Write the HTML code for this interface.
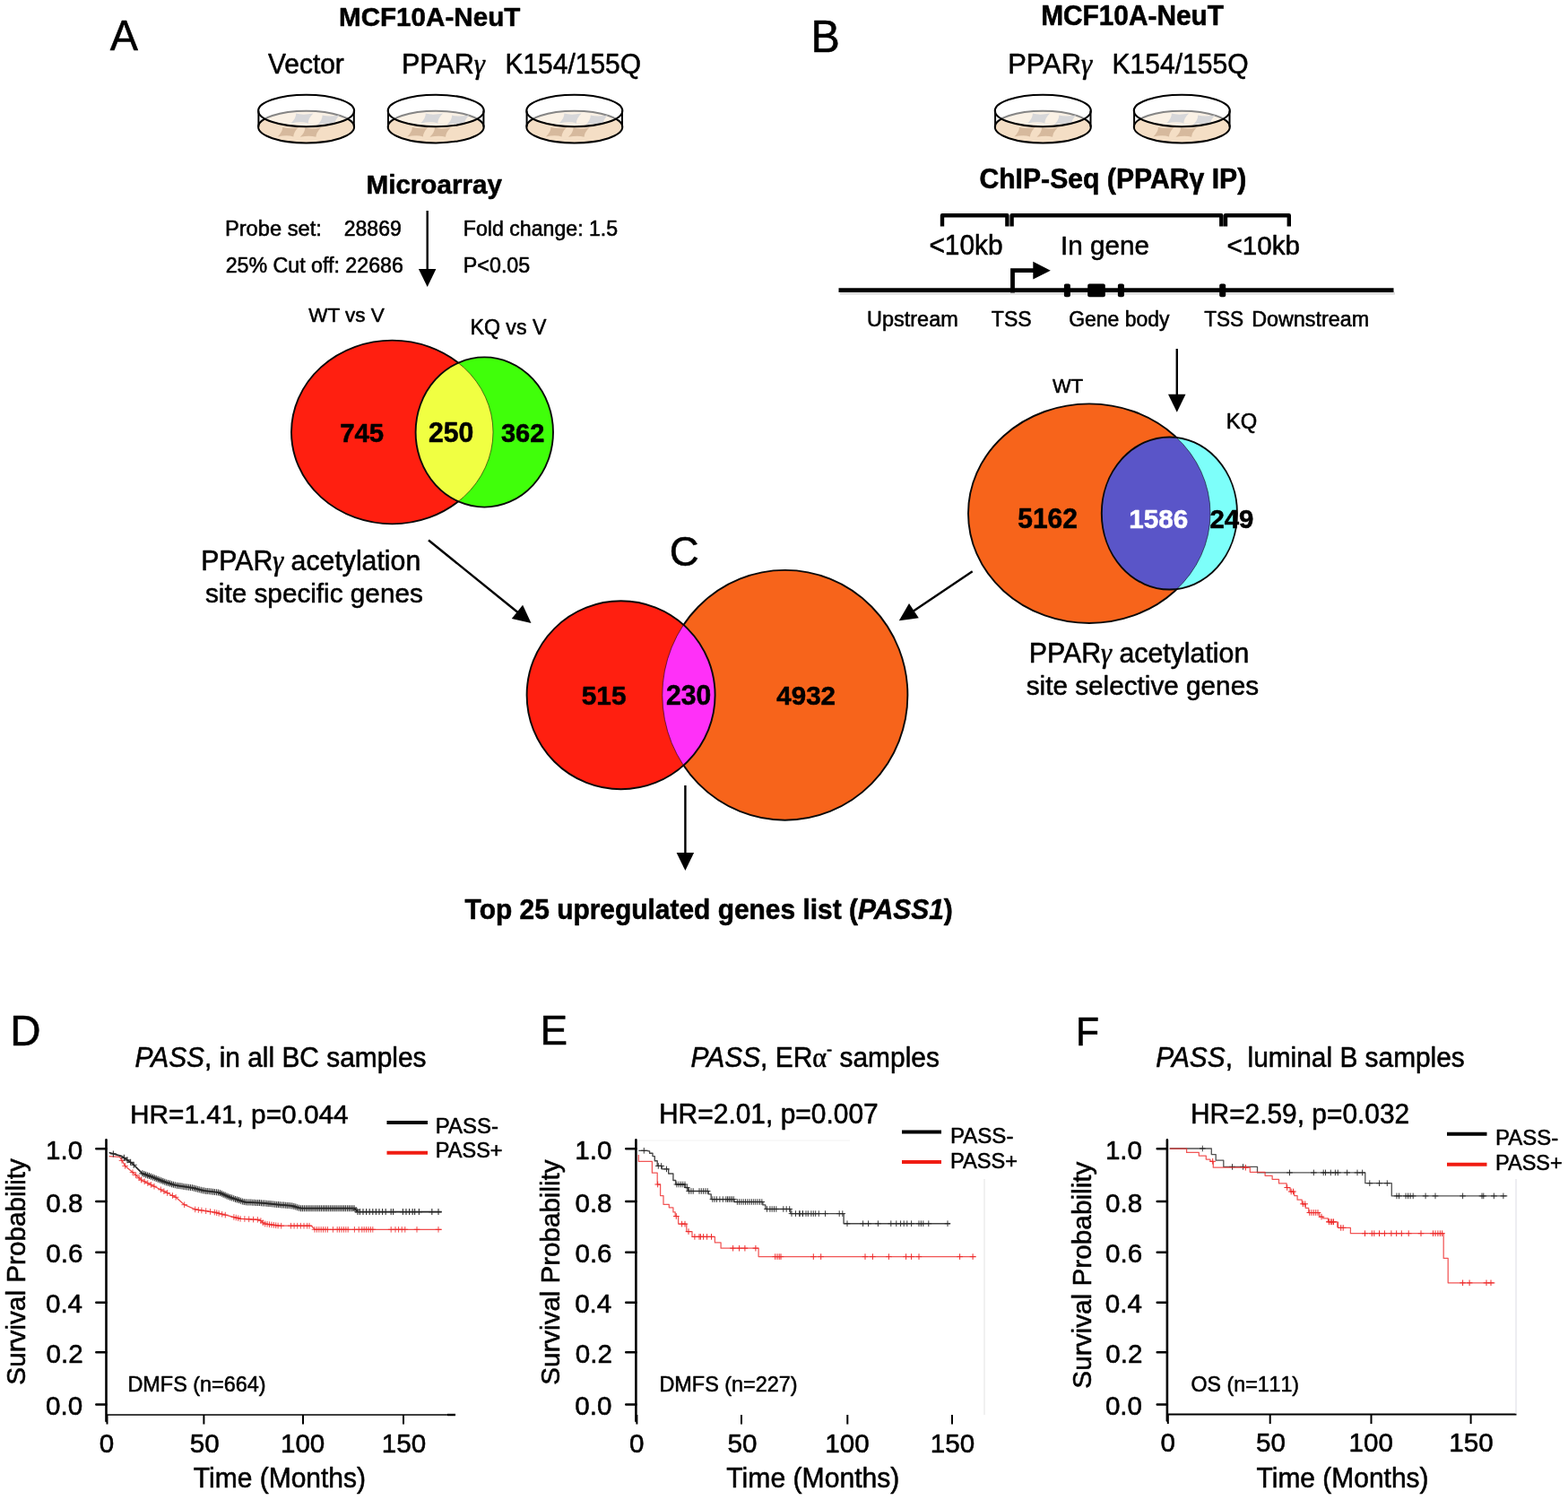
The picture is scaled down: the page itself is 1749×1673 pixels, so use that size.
<!DOCTYPE html>
<html lang="en"><head><meta charset="utf-8"><title>PPARγ acetylation site selective genes</title>
<style>
html,body{margin:0;padding:0;background:#fff;}
body{width:1749px;height:1673px;overflow:hidden;}
svg{display:block;}
svg text{font-family:"Liberation Sans",Arial,Helvetica,sans-serif;white-space:pre;stroke:#000;stroke-width:0.55px;stroke-linejoin:round;}
svg text.w{stroke:#fff;}
</style></head><body>
<svg width="1749" height="1673" viewBox="0 0 1749 1673">
<rect width="1749" height="1673" fill="#fff"/>
<!-- Panel A -->
<text transform="translate(122.72 55.50) scale(1.0000 1.02)" font-size="46.85" stroke-width="0.84">A</text>
<text transform="translate(377.99 28.80) scale(1.0000 1.02)" font-size="29.62" stroke-width="0.24" font-weight="bold">MCF10A-NeuT</text>
<text transform="translate(299.04 81.50) scale(1.0000 1.02)" font-size="29.90" stroke-width="0.78">Vector</text>
<text transform="translate(447.96 81.70) scale(1.0000 1.02)" font-size="30.50" stroke-width="0.79"><tspan>PPAR</tspan><tspan font-family="Liberation Serif, serif" font-style="italic">γ</tspan></text>
<text transform="translate(563.49 81.50) scale(1.0000 1.02)" font-size="29.96" stroke-width="0.78">K154/155Q</text>
<g>
<ellipse cx="341.6" cy="141.6" rx="53.5" ry="17.8" fill="#f4dec5" stroke="#000" stroke-width="2"/>
<path d="M315.3,142.0 Q322.1,144.1 332.9,142.0 Q327.5,147.2 327.3,152.4 Q320.5,150.3 309.7,152.4 Q315.1,147.2 315.3,142.0Z" fill="#d6b99d"/>
<path d="M340.4,142.4 Q347.2,144.5 358.0,142.4 Q352.6,147.6 352.4,152.8 Q345.6,150.7 334.8,152.8 Q340.2,147.6 340.4,142.4Z" fill="#d6b99d"/>
<clipPath id="c341"><ellipse cx="341.6" cy="123.5" rx="53.5" ry="17.8"/></clipPath>
<g clip-path="url(#c341)">
<rect x="288.1" y="105.7" width="107.0" height="35.6" fill="#fff"/>
<ellipse cx="341.6" cy="141.6" rx="53.5" ry="17.8" fill="#faf1e5" stroke="#858585" stroke-width="2"/>
<path d="M330.2,126.6 Q337.8,128.8 349.4,126.6 Q343.7,132.0 343.8,137.4 Q336.2,135.2 324.6,137.4 Q330.3,132.0 330.2,126.6Z" fill="#d7d7d9"/>
<path d="M359.6,128.4 Q367.2,130.6 378.8,128.4 Q373.1,133.8 373.2,139.2 Q365.6,137.0 354.0,139.2 Q359.7,133.8 359.6,128.4Z" fill="#d7d7d9"/>
</g>
<path d="M288.40000000000003,123.5 V141.6 M394.8,141.6 V123.5" fill="none" stroke="#000" stroke-width="2"/>
<ellipse cx="341.6" cy="123.5" rx="53.5" ry="17.8" fill="none" stroke="#000" stroke-width="2.1"/>
</g>
<g>
<ellipse cx="486.2" cy="141.6" rx="53.5" ry="17.8" fill="#f4dec5" stroke="#000" stroke-width="2"/>
<path d="M459.9,142.0 Q466.7,144.1 477.5,142.0 Q472.1,147.2 471.9,152.4 Q465.1,150.3 454.3,152.4 Q459.7,147.2 459.9,142.0Z" fill="#d6b99d"/>
<path d="M485.0,142.4 Q491.8,144.5 502.6,142.4 Q497.2,147.6 497.0,152.8 Q490.2,150.7 479.4,152.8 Q484.8,147.6 485.0,142.4Z" fill="#d6b99d"/>
<clipPath id="c486"><ellipse cx="486.2" cy="123.5" rx="53.5" ry="17.8"/></clipPath>
<g clip-path="url(#c486)">
<rect x="432.7" y="105.7" width="107.0" height="35.6" fill="#fff"/>
<ellipse cx="486.2" cy="141.6" rx="53.5" ry="17.8" fill="#faf1e5" stroke="#858585" stroke-width="2"/>
<path d="M474.8,126.6 Q482.4,128.8 494.0,126.6 Q488.3,132.0 488.4,137.4 Q480.8,135.2 469.2,137.4 Q474.9,132.0 474.8,126.6Z" fill="#d7d7d9"/>
<path d="M504.2,128.4 Q511.8,130.6 523.4,128.4 Q517.7,133.8 517.8,139.2 Q510.2,137.0 498.6,139.2 Q504.3,133.8 504.2,128.4Z" fill="#d7d7d9"/>
</g>
<path d="M433.0,123.5 V141.6 M539.4000000000001,141.6 V123.5" fill="none" stroke="#000" stroke-width="2"/>
<ellipse cx="486.2" cy="123.5" rx="53.5" ry="17.8" fill="none" stroke="#000" stroke-width="2.1"/>
</g>
<g>
<ellipse cx="640.8" cy="141.6" rx="53.5" ry="17.8" fill="#f4dec5" stroke="#000" stroke-width="2"/>
<path d="M614.5,142.0 Q621.3,144.1 632.1,142.0 Q626.7,147.2 626.5,152.4 Q619.7,150.3 608.9,152.4 Q614.3,147.2 614.5,142.0Z" fill="#d6b99d"/>
<path d="M639.6,142.4 Q646.4,144.5 657.2,142.4 Q651.8,147.6 651.6,152.8 Q644.8,150.7 634.0,152.8 Q639.4,147.6 639.6,142.4Z" fill="#d6b99d"/>
<clipPath id="c640"><ellipse cx="640.8" cy="123.5" rx="53.5" ry="17.8"/></clipPath>
<g clip-path="url(#c640)">
<rect x="587.3" y="105.7" width="107.0" height="35.6" fill="#fff"/>
<ellipse cx="640.8" cy="141.6" rx="53.5" ry="17.8" fill="#faf1e5" stroke="#858585" stroke-width="2"/>
<path d="M629.4,126.6 Q637.0,128.8 648.6,126.6 Q642.9,132.0 643.0,137.4 Q635.4,135.2 623.8,137.4 Q629.5,132.0 629.4,126.6Z" fill="#d7d7d9"/>
<path d="M658.8,128.4 Q666.4,130.6 678.0,128.4 Q672.3,133.8 672.4,139.2 Q664.8,137.0 653.2,139.2 Q658.9,133.8 658.8,128.4Z" fill="#d7d7d9"/>
</g>
<path d="M587.5999999999999,123.5 V141.6 M694.0,141.6 V123.5" fill="none" stroke="#000" stroke-width="2"/>
<ellipse cx="640.8" cy="123.5" rx="53.5" ry="17.8" fill="none" stroke="#000" stroke-width="2.1"/>
</g>
<text transform="translate(408.49 215.50) scale(1.0000 1.02)" font-size="29.63" stroke-width="0.24" font-weight="bold">Microarray</text>
<text transform="translate(250.91 262.50) scale(1.0000 1.02)" font-size="23.69" stroke-width="0.62">Probe set:</text>
<text transform="translate(383.75 262.50) scale(1.0000 1.02)" font-size="23.05" stroke-width="0.60">28869</text>
<text transform="translate(251.64 304.00) scale(1.0000 1.02)" font-size="23.22" stroke-width="0.60">25% Cut off: 22686</text>
<text transform="translate(516.85 262.50) scale(1.0000 1.02)" font-size="23.14" stroke-width="0.60">Fold change: 1.5</text>
<text transform="translate(516.84 304.00) scale(1.0000 1.02)" font-size="23.28" stroke-width="0.61">P&lt;0.05</text>
<line x1="476.7" y1="235.0" x2="476.7" y2="302.0" stroke="#000" stroke-width="2.4"/>
<polygon points="476.7,320.0 466.9,300.0 486.4,300.0" fill="#000"/>
<text transform="translate(344.18 358.60) scale(1.0000 1.02)" font-size="22.54" stroke-width="0.59">WT vs V</text>
<text transform="translate(524.45 373.00) scale(1.0000 1.02)" font-size="23.18" stroke-width="0.60">KQ vs V</text>
<clipPath id="va1"><ellipse cx="437.5" cy="482" rx="112.5" ry="102.4"/></clipPath>
<clipPath id="va2"><ellipse cx="540.3" cy="482" rx="76.7" ry="83.6"/></clipPath>
<ellipse cx="437.5" cy="482" rx="112.5" ry="102.4" fill="#ff1f10" stroke="#0a0a0a" stroke-width="1.9"/>
<ellipse cx="540.3" cy="482" rx="76.7" ry="83.6" fill="#40ff0a"/>
<ellipse cx="540.3" cy="482" rx="76.7" ry="83.6" fill="#f0ff42" clip-path="url(#va1)"/>
<ellipse cx="437.5" cy="482" rx="112.5" ry="102.4" fill="none" stroke="#000" stroke-opacity="0.62" stroke-width="0.9" clip-path="url(#va2)"/>
<ellipse cx="540.3" cy="482" rx="76.7" ry="83.6" fill="none" stroke="#0a0a0a" stroke-width="1.9"/>
<text transform="translate(379.14 492.80) scale(1.0000 1.02)" font-size="29.35" stroke-width="0.23" font-weight="bold">745</text>
<text transform="translate(478.06 492.80) scale(1.0000 1.02)" font-size="30.16" stroke-width="0.24" font-weight="bold">250</text>
<text transform="translate(558.99 492.80) scale(1.0000 1.02)" font-size="28.98" stroke-width="0.23" font-weight="bold">362</text>
<text transform="translate(224.17 636.00) scale(1.0000 1.02)" font-size="30.26" stroke-width="0.79"><tspan>PPAR</tspan><tspan font-family="Liberation Serif, serif" font-style="italic">γ</tspan><tspan> acetylation</tspan></text>
<text transform="translate(228.99 671.50) scale(1.0000 1.02)" font-size="29.73" stroke-width="0.77">site specific genes</text>
<line x1="478.0" y1="602.5" x2="578.5" y2="683.7" stroke="#000" stroke-width="2.4"/>
<polygon points="592.5,695.0 570.8,690.0 583.1,674.8" fill="#000"/>
<!-- Panel B -->
<text transform="translate(904.56 58.30) scale(1.0000 1.02)" font-size="48.46" stroke-width="0.87">B</text>
<text transform="translate(1161.18 27.80) scale(1.0000 1.02)" font-size="29.85" stroke-width="0.24" font-weight="bold">MCF10A-NeuT</text>
<text transform="translate(1124.23 81.70) scale(1.0000 1.02)" font-size="30.86" stroke-width="0.80"><tspan>PPAR</tspan><tspan font-family="Liberation Serif, serif" font-style="italic">γ</tspan></text>
<text transform="translate(1240.49 81.50) scale(1.0000 1.02)" font-size="30.06" stroke-width="0.78">K154/155Q</text>
<g>
<ellipse cx="1163.3" cy="141.6" rx="53.5" ry="17.8" fill="#f4dec5" stroke="#000" stroke-width="2"/>
<path d="M1137.0,142.0 Q1143.8,144.1 1154.6,142.0 Q1149.2,147.2 1149.0,152.4 Q1142.2,150.3 1131.4,152.4 Q1136.8,147.2 1137.0,142.0Z" fill="#d6b99d"/>
<path d="M1162.1,142.4 Q1168.9,144.5 1179.7,142.4 Q1174.3,147.6 1174.1,152.8 Q1167.3,150.7 1156.5,152.8 Q1161.9,147.6 1162.1,142.4Z" fill="#d6b99d"/>
<clipPath id="c1163"><ellipse cx="1163.3" cy="123.5" rx="53.5" ry="17.8"/></clipPath>
<g clip-path="url(#c1163)">
<rect x="1109.8" y="105.7" width="107.0" height="35.6" fill="#fff"/>
<ellipse cx="1163.3" cy="141.6" rx="53.5" ry="17.8" fill="#faf1e5" stroke="#858585" stroke-width="2"/>
<path d="M1151.9,126.6 Q1159.5,128.8 1171.1,126.6 Q1165.4,132.0 1165.5,137.4 Q1157.9,135.2 1146.3,137.4 Q1152.0,132.0 1151.9,126.6Z" fill="#d7d7d9"/>
<path d="M1181.3,128.4 Q1188.9,130.6 1200.5,128.4 Q1194.8,133.8 1194.9,139.2 Q1187.3,137.0 1175.7,139.2 Q1181.4,133.8 1181.3,128.4Z" fill="#d7d7d9"/>
</g>
<path d="M1110.1,123.5 V141.6 M1216.5,141.6 V123.5" fill="none" stroke="#000" stroke-width="2"/>
<ellipse cx="1163.3" cy="123.5" rx="53.5" ry="17.8" fill="none" stroke="#000" stroke-width="2.1"/>
</g>
<g>
<ellipse cx="1318.3" cy="141.6" rx="53.5" ry="17.8" fill="#f4dec5" stroke="#000" stroke-width="2"/>
<path d="M1292.0,142.0 Q1298.8,144.1 1309.6,142.0 Q1304.2,147.2 1304.0,152.4 Q1297.2,150.3 1286.4,152.4 Q1291.8,147.2 1292.0,142.0Z" fill="#d6b99d"/>
<path d="M1317.1,142.4 Q1323.9,144.5 1334.7,142.4 Q1329.3,147.6 1329.1,152.8 Q1322.3,150.7 1311.5,152.8 Q1316.9,147.6 1317.1,142.4Z" fill="#d6b99d"/>
<clipPath id="c1318"><ellipse cx="1318.3" cy="123.5" rx="53.5" ry="17.8"/></clipPath>
<g clip-path="url(#c1318)">
<rect x="1264.8" y="105.7" width="107.0" height="35.6" fill="#fff"/>
<ellipse cx="1318.3" cy="141.6" rx="53.5" ry="17.8" fill="#faf1e5" stroke="#858585" stroke-width="2"/>
<path d="M1306.9,126.6 Q1314.5,128.8 1326.1,126.6 Q1320.4,132.0 1320.5,137.4 Q1312.9,135.2 1301.3,137.4 Q1307.0,132.0 1306.9,126.6Z" fill="#d7d7d9"/>
<path d="M1336.3,128.4 Q1343.9,130.6 1355.5,128.4 Q1349.8,133.8 1349.9,139.2 Q1342.3,137.0 1330.7,139.2 Q1336.4,133.8 1336.3,128.4Z" fill="#d7d7d9"/>
</g>
<path d="M1265.1,123.5 V141.6 M1371.5,141.6 V123.5" fill="none" stroke="#000" stroke-width="2"/>
<ellipse cx="1318.3" cy="123.5" rx="53.5" ry="17.8" fill="none" stroke="#000" stroke-width="2.1"/>
</g>
<text transform="translate(1092.41 210.00) scale(1.0000 1.02)" font-size="30.17" stroke-width="0.24" font-weight="bold">ChIP-Seq (PPARγ IP)</text>
<path d="M1051,252.6 V240.3 H1123.4 V252.6 M1128.6,252.6 V240.3 H1362.3 V252.6 M1367,252.6 V240.3 H1437.8 V252.6" fill="none" stroke="#000" stroke-width="4.4" stroke-linejoin="round"/>
<text transform="translate(1036.39 284.30) scale(1.0000 1.02)" font-size="29.90" stroke-width="0.78">&lt;10kb</text>
<text transform="translate(1182.91 284.30) scale(1.0000 1.02)" font-size="29.70" stroke-width="0.77">In gene</text>
<text transform="translate(1368.51 284.30) scale(1.0000 1.02)" font-size="29.56" stroke-width="0.77">&lt;10kb</text>
<line x1="937" y1="327.2" x2="1556" y2="327.2" stroke="#000" stroke-opacity="0.13" stroke-width="3"/>
<line x1="935.5" y1="323.6" x2="1554.5" y2="323.6" stroke="#000" stroke-width="4.6"/>
<path d="M1129.5,326.5 V301.7 H1154" fill="none" stroke="#000" stroke-width="4.8"/>
<polygon points="1171.8,301.7 1152.3,291.8 1152.3,311.6" fill="#000"/>
<rect x="1186.9" y="316.6" width="7" height="14.6" rx="2" fill="#000"/>
<rect x="1213.2" y="316.6" width="19.6" height="14.6" rx="2" fill="#000"/>
<rect x="1246.9" y="316.6" width="7" height="14.6" rx="2" fill="#000"/>
<rect x="1360.2" y="316.6" width="7" height="14.6" rx="2" fill="#000"/>
<text transform="translate(967.05 364.00) scale(1.0066 1.02)" font-size="23.30" stroke-width="0.61">Upstream</text>
<text transform="translate(1105.84 364.00) scale(0.9908 1.02)" font-size="23.30" stroke-width="0.61">TSS</text>
<text transform="translate(1192.15 364.00) scale(0.9868 1.02)" font-size="23.30" stroke-width="0.61">Gene body</text>
<text transform="translate(1343.14 364.00) scale(0.9728 1.02)" font-size="23.30" stroke-width="0.61">TSS</text>
<text transform="translate(1396.14 364.00) scale(1.0019 1.02)" font-size="23.30" stroke-width="0.61">Downstream</text>
<line x1="1312.8" y1="389.0" x2="1312.8" y2="441.7" stroke="#000" stroke-width="2.4"/>
<polygon points="1312.8,459.7 1303.0,439.7 1322.5,439.7" fill="#000"/>
<text transform="translate(1173.98 438.30) scale(1.0000 1.02)" font-size="21.98" stroke-width="0.57">WT</text>
<text transform="translate(1367.81 477.80) scale(1.0000 1.02)" font-size="23.79" stroke-width="0.62">KQ</text>
<clipPath id="vb1"><ellipse cx="1215" cy="572.7" rx="135" ry="122.3"/></clipPath>
<clipPath id="vb2"><ellipse cx="1304.4" cy="572.5" rx="75.6" ry="85"/></clipPath>
<ellipse cx="1215" cy="572.7" rx="135" ry="122.3" fill="#f7641b" stroke="#0a0a0a" stroke-width="1.9"/>
<ellipse cx="1304.4" cy="572.5" rx="75.6" ry="85" fill="#7dfffa"/>
<ellipse cx="1304.4" cy="572.5" rx="75.6" ry="85" fill="#5a55c8" clip-path="url(#vb1)"/>
<ellipse cx="1215" cy="572.7" rx="135" ry="122.3" fill="none" stroke="#000" stroke-opacity="0.62" stroke-width="0.9" clip-path="url(#vb2)"/>
<ellipse cx="1304.4" cy="572.5" rx="75.6" ry="85" fill="none" stroke="#0a0a0a" stroke-width="1.9"/>
<text transform="translate(1135.22 588.80) scale(1.0000 1.02)" font-size="29.96" stroke-width="0.24" font-weight="bold">5162</text>
<text transform="translate(1259.34 588.80) scale(1.0000 1.02)" font-size="29.61" stroke-width="0.24" font-weight="bold" fill="#fff" class="w">1586</text>
<text transform="translate(1349.39 588.80) scale(1.0000 1.02)" font-size="29.38" stroke-width="0.24" font-weight="bold">249</text>
<text transform="translate(1147.77 738.60) scale(1.0000 1.02)" font-size="30.31" stroke-width="0.79"><tspan>PPAR</tspan><tspan font-family="Liberation Serif, serif" font-style="italic">γ</tspan><tspan> acetylation</tspan></text>
<text transform="translate(1144.69 774.50) scale(1.0000 1.02)" font-size="29.74" stroke-width="0.77">site selective genes</text>
<line x1="1084.7" y1="637.3" x2="1017.8" y2="682.2" stroke="#000" stroke-width="2.4"/>
<polygon points="1002.8,692.2 1014.0,673.0 1024.8,689.2" fill="#000"/>
<!-- Panel C -->
<text transform="translate(746.83 631.00) scale(1.0000 1.02)" font-size="45.64" stroke-width="0.82">C</text>
<clipPath id="vc1"><ellipse cx="875.6" cy="775.3" rx="136.8" ry="139.4"/></clipPath>
<clipPath id="vc2"><ellipse cx="692.6" cy="775.3" rx="105" ry="105"/></clipPath>
<ellipse cx="875.6" cy="775.3" rx="136.8" ry="139.4" fill="#f7641b" stroke="#0a0a0a" stroke-width="1.9"/>
<ellipse cx="692.6" cy="775.3" rx="105" ry="105" fill="#ff1f10"/>
<ellipse cx="692.6" cy="775.3" rx="105" ry="105" fill="#ff30f8" clip-path="url(#vc1)"/>
<ellipse cx="875.6" cy="775.3" rx="136.8" ry="139.4" fill="none" stroke="#000" stroke-opacity="0.62" stroke-width="0.9" clip-path="url(#vc2)"/>
<ellipse cx="692.6" cy="775.3" rx="105" ry="105" fill="none" stroke="#0a0a0a" stroke-width="1.9"/>
<text transform="translate(648.83 786.00) scale(1.0000 1.02)" font-size="29.73" stroke-width="0.24" font-weight="bold">515</text>
<text transform="translate(743.07 786.00) scale(1.0000 1.02)" font-size="30.04" stroke-width="0.24" font-weight="bold">230</text>
<text transform="translate(866.27 786.00) scale(1.0000 1.02)" font-size="29.57" stroke-width="0.24" font-weight="bold">4932</text>
<line x1="764.4" y1="876.0" x2="764.4" y2="953.0" stroke="#000" stroke-width="2.4"/>
<polygon points="764.4,971.0 754.6,951.0 774.1,951.0" fill="#000"/>
<text transform="translate(518.62 1025.00) scale(1.0000 1.02)" font-size="29.92" stroke-width="0.24"><tspan font-weight="bold">Top 25 upregulated genes list (</tspan><tspan font-weight="bold" font-style="italic">PASS1</tspan><tspan font-weight="bold">)</tspan></text>
<!-- Panel D -->
<text transform="translate(11.13 1165.80) scale(1.0000 1.02)" font-size="47.47" stroke-width="0.85">D</text>
<text transform="translate(150.49 1189.60) scale(1.0000 1.02)" font-size="29.90" stroke-width="0.78"><tspan font-style="italic">PASS</tspan><tspan>, in all BC samples</tspan></text>
<text transform="translate(145.00 1253.00) scale(1.0000 1.02)" font-size="29.83" stroke-width="0.78">HR=1.41, p=0.044</text>
<line x1="431.5" y1="1252" x2="477" y2="1252" stroke="#000" stroke-width="4"/>
<line x1="431.5" y1="1285.7" x2="477" y2="1285.7" stroke="#f01c12" stroke-width="4"/>
<text transform="translate(485.79 1263.90) scale(1.0000 1.02)" font-size="23.98" stroke-width="0.62">PASS-</text>
<text transform="translate(485.82 1291.00) scale(1.0000 1.02)" font-size="23.54" stroke-width="0.61">PASS+</text>
<line x1="118.5" y1="1271.4" x2="118.5" y2="1585" stroke="#000" stroke-width="2.6" stroke-linecap="round"/>
<path d="M107.3,1281.2H118.5M107.3,1340H118.5M107.3,1396.8H118.5M107.3,1452.8H118.5M107.3,1508.3H118.5M107.3,1566.6H118.5" stroke="#000" stroke-width="2.5" stroke-linecap="round" fill="none"/>
<line x1="118.5" y1="1578" x2="507.7" y2="1578" stroke="#000" stroke-width="1.6"/>
<path d="M119.5,1578V1588.5M227.4,1578V1588.5M338,1578V1588.5M450,1578V1588.5" stroke="#000" stroke-width="2" fill="none"/>
<line x1="499" y1="1578" x2="508" y2="1578" stroke="#000" stroke-width="2.4"/>
<text transform="translate(51.09 1292.70) scale(1 1.02)" font-size="29.60" stroke-width="0.77">1.0</text>
<text transform="translate(51.24 1351.50) scale(1 1.02)" font-size="29.60" stroke-width="0.77">0.8</text>
<text transform="translate(51.24 1408.30) scale(1 1.02)" font-size="29.60" stroke-width="0.77">0.6</text>
<text transform="translate(50.94 1464.30) scale(1 1.02)" font-size="29.60" stroke-width="0.77">0.4</text>
<text transform="translate(51.54 1519.80) scale(1 1.02)" font-size="29.60" stroke-width="0.77">0.2</text>
<text transform="translate(51.09 1578.10) scale(1 1.02)" font-size="29.60" stroke-width="0.77">0.0</text>
<text transform="translate(27.60 1544.65) rotate(-90) scale(1.0000 1.02)" font-size="29.72" stroke-width="0.77">Survival Probability</text>
<text transform="translate(110.71 1619.70) scale(1 1.02)" font-size="29.60" stroke-width="0.77">0</text>
<text transform="translate(211.70 1619.70) scale(1 1.02)" font-size="29.60" stroke-width="0.77">50</text>
<text transform="translate(312.97 1619.70) scale(1 1.02)" font-size="29.60" stroke-width="0.77">100</text>
<text transform="translate(425.77 1619.70) scale(1 1.02)" font-size="29.60" stroke-width="0.77">150</text>
<text transform="translate(215.79 1658.60) scale(1.0000 1.02)" font-size="30.00" stroke-width="0.78">Time (Months)</text>
<text transform="translate(142.43 1552.00) scale(1.0000 1.02)" font-size="23.44" stroke-width="0.61">DMFS (n=664)</text>
<path d="M121.6,1289.6 L133.6,1290.3 L139.6,1300.4 L148.0,1307.6 L157.6,1316.0 L167.2,1320.8 L181.7,1328.0 L196.1,1335.3 L205.7,1343.7 L217.7,1348.9 L239.3,1352.1 L253.7,1355.7 L268.1,1359.3 L289.7,1360.5 L294.5,1364.8 L311.3,1367.2 L347.4,1367.2 L351.0,1371.3 L492.7,1371.3" fill="none" stroke="#ee2b2b" stroke-width="1.3" stroke-opacity="0.85" stroke-linejoin="round"/>
<path d="M136.0,1291.1v6.6M132.7,1294.4h6.6M139.6,1297.1v6.6M136.3,1300.4h6.6M148.0,1304.3v6.6M144.7,1307.6h6.6M151.6,1307.5v6.6M148.3,1310.8h6.6M155.2,1310.6v6.6M151.9,1313.9h6.6M157.6,1312.7v6.6M154.3,1316.0h6.6M161.2,1314.5v6.6M157.9,1317.8h6.6M164.8,1316.3v6.6M161.5,1319.6h6.6M168.4,1318.1v6.6M165.1,1321.4h6.6M172.0,1319.9v6.6M168.7,1323.2h6.6M179.3,1323.5v6.6M176.0,1326.8h6.6M182.9,1325.4v6.6M179.6,1328.7h6.6M186.5,1327.2v6.6M183.2,1330.5h6.6M192.5,1330.2v6.6M189.2,1333.5h6.6M196.1,1332.0v6.6M192.8,1335.3h6.6M205.7,1340.4v6.6M202.4,1343.7h6.6M217.7,1345.6v6.6M214.4,1348.9h6.6M221.3,1346.2v6.6M218.0,1349.5h6.6M224.9,1346.7v6.6M221.6,1350.0h6.6M229.7,1347.4v6.6M226.4,1350.7h6.6M234.5,1348.1v6.6M231.2,1351.4h6.6M239.3,1348.8v6.6M236.0,1352.1h6.6M241.7,1349.4v6.6M238.4,1352.7h6.6M244.1,1350.0v6.6M240.8,1353.3h6.6M247.7,1350.9v6.6M244.4,1354.2h6.6M251.3,1351.8v6.6M248.0,1355.1h6.6M260.9,1354.2v6.6M257.6,1357.5h6.6M263.3,1354.8v6.6M260.0,1358.1h6.6M265.7,1355.4v6.6M262.4,1358.7h6.6M268.1,1356.0v6.6M264.8,1359.3h6.6M272.9,1356.2v6.6M269.6,1359.5h6.6M277.7,1356.5v6.6M274.4,1359.8h6.6M282.5,1356.8v6.6M279.2,1360.1h6.6M287.3,1357.0v6.6M284.0,1360.3h6.6M290.9,1358.3v6.6M287.6,1361.6h6.6M293.3,1360.4v6.6M290.0,1363.7h6.6M295.7,1361.7v6.6M292.4,1365.0h6.6M298.1,1362.0v6.6M294.8,1365.3h6.6M300.5,1362.4v6.6M297.2,1365.7h6.6M302.9,1362.7v6.6M299.6,1366.0h6.6M305.3,1363.0v6.6M302.0,1366.3h6.6M307.7,1363.4v6.6M304.4,1366.7h6.6M310.1,1363.7v6.6M306.8,1367.0h6.6M313.7,1363.9v6.6M310.4,1367.2h6.6M324.5,1363.9v6.6M321.2,1367.2h6.6M328.1,1363.9v6.6M324.8,1367.2h6.6M331.7,1363.9v6.6M328.4,1367.2h6.6M335.4,1363.9v6.6M332.1,1367.2h6.6M339.0,1363.9v6.6M335.7,1367.2h6.6M342.6,1363.9v6.6M339.3,1367.2h6.6M345.0,1363.9v6.6M341.7,1367.2h6.6M351.0,1368.0v6.6M347.7,1371.3h6.6M353.4,1368.0v6.6M350.1,1371.3h6.6M355.8,1368.0v6.6M352.5,1371.3h6.6M358.2,1368.0v6.6M354.9,1371.3h6.6M360.6,1368.0v6.6M357.3,1371.3h6.6M363.0,1368.0v6.6M359.7,1371.3h6.6M365.4,1368.0v6.6M362.1,1371.3h6.6M371.4,1368.0v6.6M368.1,1371.3h6.6M376.2,1368.0v6.6M372.9,1371.3h6.6M378.6,1368.0v6.6M375.3,1371.3h6.6M381.0,1368.0v6.6M377.7,1371.3h6.6M383.4,1368.0v6.6M380.1,1371.3h6.6M385.8,1368.0v6.6M382.5,1371.3h6.6M388.2,1368.0v6.6M384.9,1371.3h6.6M395.4,1368.0v6.6M392.1,1371.3h6.6M400.2,1368.0v6.6M396.9,1371.3h6.6M403.8,1368.0v6.6M400.5,1371.3h6.6M406.2,1368.0v6.6M402.9,1371.3h6.6M408.6,1368.0v6.6M405.3,1371.3h6.6M411.0,1368.0v6.6M407.7,1371.3h6.6M413.4,1368.0v6.6M410.1,1371.3h6.6M415.8,1368.0v6.6M412.5,1371.3h6.6M436.2,1368.0v6.6M432.9,1371.3h6.6M441.0,1368.0v6.6M437.7,1371.3h6.6M444.6,1368.0v6.6M441.3,1371.3h6.6M448.2,1368.0v6.6M444.9,1371.3h6.6M451.8,1368.0v6.6M448.5,1371.3h6.6M465.0,1368.0v6.6M461.7,1371.3h6.6M489.0,1368.0v6.6M485.7,1371.3h6.6" fill="none" stroke="#ee2b2b" stroke-width="1.0" stroke-opacity="0.85"/>
<path d="M121.6,1285.5 L136.0,1289.6 L148.0,1298.0 L158.8,1308.8 L172.0,1313.6 L184.1,1318.4 L196.1,1322.0 L215.3,1324.9 L227.3,1328.0 L244.1,1330.0 L256.1,1335.3 L272.9,1340.8 L292.1,1341.7 L311.3,1343.7 L325.7,1344.9 L335.4,1347.7 L395.4,1347.7 L399.0,1351.6 L492.7,1351.6" fill="none" stroke="#262626" stroke-width="1.7" stroke-opacity="1" stroke-linejoin="round"/>
<path d="M126.4,1283.4v7.0M122.9,1286.9h7.0M138.4,1287.8v7.0M134.9,1291.3h7.0M142.0,1290.3v7.0M138.5,1293.8h7.0M145.6,1292.8v7.0M142.1,1296.3h7.0M149.2,1295.7v7.0M145.7,1299.2h7.0M158.8,1305.3v7.0M155.3,1308.8h7.0M160.8,1306.0v7.0M157.3,1309.5h7.0M162.7,1306.7v7.0M159.2,1310.2h7.0M164.6,1307.4v7.0M161.1,1310.9h7.0M166.5,1308.1v7.0M163.0,1311.6h7.0M168.4,1308.8v7.0M164.9,1312.3h7.0M170.4,1309.5v7.0M166.9,1313.0h7.0M172.3,1310.2v7.0M168.8,1313.7h7.0M174.2,1311.0v7.0M170.7,1314.5h7.0M176.1,1311.8v7.0M172.6,1315.3h7.0M178.0,1312.5v7.0M174.5,1316.0h7.0M180.0,1313.3v7.0M176.5,1316.8h7.0M181.9,1314.1v7.0M178.4,1317.6h7.0M183.8,1314.8v7.0M180.3,1318.3h7.0M185.7,1315.4v7.0M182.2,1318.9h7.0M187.7,1316.0v7.0M184.2,1319.5h7.0M189.6,1316.6v7.0M186.1,1320.1h7.0M191.5,1317.2v7.0M188.0,1320.7h7.0M193.4,1317.8v7.0M189.9,1321.3h7.0M195.3,1318.3v7.0M191.8,1321.8h7.0M197.3,1318.7v7.0M193.8,1322.2h7.0M199.2,1319.0v7.0M195.7,1322.5h7.0M201.1,1319.3v7.0M197.6,1322.8h7.0M203.0,1319.6v7.0M199.5,1323.1h7.0M204.9,1319.9v7.0M201.4,1323.4h7.0M206.9,1320.2v7.0M203.4,1323.7h7.0M208.8,1320.5v7.0M205.3,1324.0h7.0M210.7,1320.7v7.0M207.2,1324.2h7.0M212.6,1321.0v7.0M209.1,1324.5h7.0M214.6,1321.3v7.0M211.1,1324.8h7.0M216.5,1321.7v7.0M213.0,1325.2h7.0M218.4,1322.2v7.0M214.9,1325.7h7.0M220.3,1322.7v7.0M216.8,1326.2h7.0M222.2,1323.2v7.0M218.7,1326.7h7.0M224.2,1323.7v7.0M220.7,1327.2h7.0M226.1,1324.2v7.0M222.6,1327.7h7.0M228.0,1324.6v7.0M224.5,1328.1h7.0M229.9,1324.9v7.0M226.4,1328.4h7.0M231.8,1325.1v7.0M228.3,1328.6h7.0M233.8,1325.3v7.0M230.3,1328.8h7.0M235.7,1325.5v7.0M232.2,1329.0h7.0M237.6,1325.7v7.0M234.1,1329.2h7.0M239.5,1325.9v7.0M236.0,1329.4h7.0M241.5,1326.2v7.0M238.0,1329.7h7.0M243.4,1326.4v7.0M239.9,1329.9h7.0M245.3,1327.0v7.0M241.8,1330.5h7.0M247.2,1327.8v7.0M243.7,1331.3h7.0M249.1,1328.7v7.0M245.6,1332.2h7.0M251.1,1329.5v7.0M247.6,1333.0h7.0M253.0,1330.4v7.0M249.5,1333.9h7.0M254.9,1331.2v7.0M251.4,1334.7h7.0M256.8,1332.0v7.0M253.3,1335.5h7.0M258.7,1332.6v7.0M255.2,1336.1h7.0M260.7,1333.3v7.0M257.2,1336.8h7.0M262.6,1333.9v7.0M259.1,1337.4h7.0M264.5,1334.5v7.0M261.0,1338.0h7.0M266.4,1335.1v7.0M262.9,1338.6h7.0M268.3,1335.8v7.0M264.8,1339.3h7.0M270.3,1336.4v7.0M266.8,1339.9h7.0M272.2,1337.0v7.0M268.7,1340.5h7.0M274.1,1337.3v7.0M270.6,1340.8h7.0M276.0,1337.4v7.0M272.5,1340.9h7.0M278.0,1337.5v7.0M274.5,1341.0h7.0M279.9,1337.6v7.0M276.4,1341.1h7.0M281.8,1337.7v7.0M278.3,1341.2h7.0M283.7,1337.8v7.0M280.2,1341.3h7.0M285.6,1337.9v7.0M282.1,1341.4h7.0M287.6,1338.0v7.0M284.1,1341.5h7.0M289.5,1338.1v7.0M286.0,1341.6h7.0M291.4,1338.2v7.0M287.9,1341.7h7.0M293.3,1338.4v7.0M289.8,1341.9h7.0M295.2,1338.6v7.0M291.7,1342.1h7.0M297.2,1338.7v7.0M293.7,1342.2h7.0M299.1,1338.9v7.0M295.6,1342.4h7.0M301.0,1339.1v7.0M297.5,1342.6h7.0M302.9,1339.3v7.0M299.4,1342.8h7.0M304.9,1339.5v7.0M301.4,1343.0h7.0M306.8,1339.7v7.0M303.3,1343.2h7.0M308.7,1339.9v7.0M305.2,1343.4h7.0M310.6,1340.1v7.0M307.1,1343.6h7.0M312.5,1340.3v7.0M309.0,1343.8h7.0M314.5,1340.4v7.0M311.0,1343.9h7.0M316.4,1340.6v7.0M312.9,1344.1h7.0M318.3,1340.7v7.0M314.8,1344.2h7.0M320.2,1340.9v7.0M316.7,1344.4h7.0M322.1,1341.1v7.0M318.6,1344.6h7.0M324.1,1341.2v7.0M320.6,1344.7h7.0M326.0,1341.4v7.0M322.5,1344.9h7.0M327.9,1342.0v7.0M324.4,1345.5h7.0M329.8,1342.6v7.0M326.3,1346.1h7.0M331.7,1343.2v7.0M328.2,1346.7h7.0M333.7,1343.7v7.0M330.2,1347.2h7.0M335.6,1344.2v7.0M332.1,1347.7h7.0M337.5,1344.2v7.0M334.0,1347.7h7.0M339.4,1344.2v7.0M335.9,1347.7h7.0M341.4,1344.2v7.0M337.9,1347.7h7.0M343.3,1344.2v7.0M339.8,1347.7h7.0M345.2,1344.2v7.0M341.7,1347.7h7.0M347.1,1344.2v7.0M343.6,1347.7h7.0M349.0,1344.2v7.0M345.5,1347.7h7.0M351.0,1344.2v7.0M347.5,1347.7h7.0M352.9,1344.2v7.0M349.4,1347.7h7.0M354.8,1344.2v7.0M351.3,1347.7h7.0M356.7,1344.2v7.0M353.2,1347.7h7.0M358.6,1344.2v7.0M355.1,1347.7h7.0M360.6,1344.2v7.0M357.1,1347.7h7.0M362.5,1344.2v7.0M359.0,1347.7h7.0M364.4,1344.2v7.0M360.9,1347.7h7.0M366.3,1344.2v7.0M362.8,1347.7h7.0M368.3,1344.2v7.0M364.8,1347.7h7.0M370.2,1344.2v7.0M366.7,1347.7h7.0M372.1,1344.2v7.0M368.6,1347.7h7.0M374.0,1344.2v7.0M370.5,1347.7h7.0M375.9,1344.2v7.0M372.4,1347.7h7.0M377.9,1344.2v7.0M374.4,1347.7h7.0M379.8,1344.2v7.0M376.3,1347.7h7.0M381.7,1344.2v7.0M378.2,1347.7h7.0M383.6,1344.2v7.0M380.1,1347.7h7.0M385.5,1344.2v7.0M382.0,1347.7h7.0M387.5,1344.2v7.0M384.0,1347.7h7.0M389.4,1344.2v7.0M385.9,1347.7h7.0M391.3,1344.2v7.0M387.8,1347.7h7.0M393.2,1344.2v7.0M389.7,1347.7h7.0M395.1,1344.2v7.0M391.6,1347.7h7.0M397.1,1346.0v7.0M393.6,1349.5h7.0M399.0,1348.1v7.0M395.5,1351.6h7.0M401.4,1348.1v7.0M397.9,1351.6h7.0M405.0,1348.1v7.0M401.5,1351.6h7.0M408.6,1348.1v7.0M405.1,1351.6h7.0M412.2,1348.1v7.0M408.7,1351.6h7.0M415.8,1348.1v7.0M412.3,1351.6h7.0M419.4,1348.1v7.0M415.9,1351.6h7.0M423.0,1348.1v7.0M419.5,1351.6h7.0M426.6,1348.1v7.0M423.1,1351.6h7.0M430.2,1348.1v7.0M426.7,1351.6h7.0M436.2,1348.1v7.0M432.7,1351.6h7.0M438.6,1348.1v7.0M435.1,1351.6h7.0M449.4,1348.1v7.0M445.9,1351.6h7.0M453.0,1348.1v7.0M449.5,1351.6h7.0M456.6,1348.1v7.0M453.1,1351.6h7.0M460.2,1348.1v7.0M456.7,1351.6h7.0M462.6,1348.1v7.0M459.1,1351.6h7.0M467.4,1348.1v7.0M463.9,1351.6h7.0M481.8,1348.1v7.0M478.3,1351.6h7.0M489.0,1348.1v7.0M485.5,1351.6h7.0" fill="none" stroke="#262626" stroke-width="1.15" stroke-opacity="0.9"/>
<!-- Panel E -->
<text transform="translate(602.45 1165.30) scale(1.0000 1.02)" font-size="45.83" stroke-width="0.82">E</text>
<text transform="translate(770.49 1189.60) scale(1.0000 1.02)" font-size="29.92" stroke-width="0.78"><tspan font-style="italic">PASS</tspan><tspan>, ER</tspan><tspan font-family="Liberation Serif, serif">α</tspan><tspan font-size="18.55" dy="-11.97">-</tspan><tspan dy="11.97"> samples</tspan></text>
<text transform="translate(734.99 1253.00) scale(1.0000 1.02)" font-size="29.95" stroke-width="0.78">HR=2.01, p=0.007</text>
<line x1="1006" y1="1262.4" x2="1050" y2="1262.4" stroke="#000" stroke-width="4"/>
<line x1="1006" y1="1296" x2="1050" y2="1296" stroke="#f01c12" stroke-width="4"/>
<text transform="translate(1059.88 1275.30) scale(1.0000 1.02)" font-size="24.13" stroke-width="0.63">PASS-</text>
<text transform="translate(1059.92 1302.60) scale(1.0000 1.02)" font-size="23.63" stroke-width="0.61">PASS+</text>
<line x1="709.4" y1="1271.4" x2="709.4" y2="1585" stroke="#000" stroke-width="2.6" stroke-linecap="round"/>
<path d="M698.1999999999999,1281.2H709.4M698.1999999999999,1340H709.4M698.1999999999999,1396.8H709.4M698.1999999999999,1452.8H709.4M698.1999999999999,1508.3H709.4M698.1999999999999,1566.6H709.4" stroke="#000" stroke-width="2.5" stroke-linecap="round" fill="none"/>
<path d="M710.4,1578V1588.5M827,1578V1588.5M945.3,1578V1588.5M1062,1578V1588.5" stroke="#000" stroke-width="2" fill="none"/>
<line x1="1098" y1="1315" x2="1098" y2="1578" stroke="#e2e2e2" stroke-width="1"/>
<line x1="712" y1="1272" x2="948" y2="1272" stroke="#f2f2f2" stroke-width="1"/>
<text transform="translate(641.29 1292.70) scale(1 1.02)" font-size="29.60" stroke-width="0.77">1.0</text>
<text transform="translate(641.44 1351.50) scale(1 1.02)" font-size="29.60" stroke-width="0.77">0.8</text>
<text transform="translate(641.44 1408.30) scale(1 1.02)" font-size="29.60" stroke-width="0.77">0.6</text>
<text transform="translate(641.14 1464.30) scale(1 1.02)" font-size="29.60" stroke-width="0.77">0.4</text>
<text transform="translate(641.74 1519.80) scale(1 1.02)" font-size="29.60" stroke-width="0.77">0.2</text>
<text transform="translate(641.29 1578.10) scale(1 1.02)" font-size="29.60" stroke-width="0.77">0.0</text>
<text transform="translate(624.40 1544.65) rotate(-90) scale(1.0000 1.02)" font-size="29.54" stroke-width="0.77">Survival Probability</text>
<text transform="translate(701.91 1619.70) scale(1 1.02)" font-size="29.60" stroke-width="0.77">0</text>
<text transform="translate(811.50 1619.70) scale(1 1.02)" font-size="29.60" stroke-width="0.77">50</text>
<text transform="translate(920.37 1619.70) scale(1 1.02)" font-size="29.60" stroke-width="0.77">100</text>
<text transform="translate(1037.77 1619.70) scale(1 1.02)" font-size="29.60" stroke-width="0.77">150</text>
<text transform="translate(810.29 1658.60) scale(1.0000 1.02)" font-size="30.15" stroke-width="0.78">Time (Months)</text>
<text transform="translate(735.43 1552.00) scale(1.0000 1.02)" font-size="23.44" stroke-width="0.61">DMFS (n=227)</text>
<path d="M712.3,1287.9 L712.3,1287.9 L712.3,1295.3 L727.4,1295.3 L727.4,1308.2 L733.2,1308.2 L733.2,1321.0 L736.6,1321.0 L736.6,1333.6 L740.0,1333.6 L740.0,1343.3 L746.3,1343.3 L746.3,1346.8 L750.9,1346.8 L750.9,1351.9 L753.2,1351.9 L753.2,1356.5 L756.6,1356.5 L756.6,1365.1 L765.8,1365.1 L765.8,1373.6 L772.0,1373.6 L772.0,1379.4 L797.4,1379.4 L797.4,1385.9 L804.1,1385.9 L804.1,1392.2 L846.1,1392.2 L846.1,1401.6 L1088.6,1401.6" fill="none" stroke="#ee2b2b" stroke-width="1.25" stroke-opacity="0.8" stroke-linejoin="round"/>
<path d="M733.7,1317.7v6.6M730.4,1321.0h6.6M754.3,1353.2v6.6M751.0,1356.5h6.6M760.6,1361.8v6.6M757.3,1365.1h6.6M764.0,1361.8v6.6M760.7,1365.1h6.6M768.0,1370.3v6.6M764.7,1373.6h6.6M774.9,1376.1v6.6M771.6,1379.4h6.6M780.0,1376.1v6.6M776.7,1379.4h6.6M781.4,1376.1v6.6M778.1,1379.4h6.6M784.6,1376.1v6.6M781.3,1379.4h6.6M788.6,1376.1v6.6M785.3,1379.4h6.6M793.5,1376.1v6.6M790.2,1379.4h6.6M817.6,1388.9v6.6M814.3,1392.2h6.6M824.6,1388.9v6.6M821.3,1392.2h6.6M830.9,1388.9v6.6M827.6,1392.2h6.6M842.9,1388.9v6.6M839.6,1392.2h6.6M864.7,1398.3v6.6M861.4,1401.6h6.6M867.0,1398.3v6.6M863.7,1401.6h6.6M869.2,1398.3v6.6M865.9,1401.6h6.6M871.0,1398.3v6.6M867.7,1401.6h6.6M907.3,1398.3v6.6M904.0,1401.6h6.6M915.7,1398.3v6.6M912.4,1401.6h6.6M965.0,1398.3v6.6M961.7,1401.6h6.6M973.4,1398.3v6.6M970.1,1401.6h6.6M991.4,1398.3v6.6M988.1,1401.6h6.6M1010.6,1398.3v6.6M1007.3,1401.6h6.6M1016.6,1398.3v6.6M1013.3,1401.6h6.6M1025.0,1398.3v6.6M1021.7,1401.6h6.6M1070.6,1398.3v6.6M1067.3,1401.6h6.6M1085.1,1398.3v6.6M1081.8,1401.6h6.6" fill="none" stroke="#ee2b2b" stroke-width="1.0" stroke-opacity="1"/>
<path d="M712.3,1283.3 L722.9,1283.3 L722.9,1283.9 L724.6,1283.9 L724.6,1286.2 L728.0,1286.2 L728.0,1289.6 L730.3,1289.6 L730.3,1294.7 L733.2,1294.7 L733.2,1300.4 L738.3,1300.4 L738.3,1303.9 L745.7,1303.9 L745.7,1309.0 L750.9,1309.0 L750.9,1316.5 L753.7,1316.5 L753.7,1321.0 L764.0,1321.0 L764.0,1324.5 L767.5,1324.5 L767.5,1328.5 L790.3,1328.5 L790.3,1331.9 L793.2,1331.9 L793.2,1337.6 L818.9,1337.6 L818.9,1340.5 L850.9,1340.5 L850.9,1343.9 L853.8,1343.9 L853.8,1348.5 L881.8,1348.5 L881.8,1353.6 L941.1,1353.6 L941.1,1364.7 L1059.9,1364.7" fill="none" stroke="#262626" stroke-width="1.35" stroke-opacity="0.85" stroke-linejoin="round"/>
<path d="M718.3,1280.0v6.6M715.0,1283.3h6.6M734.3,1297.1v6.6M731.0,1300.4h6.6M737.7,1297.1v6.6M734.4,1300.4h6.6M743.5,1300.6v6.6M740.2,1303.9h6.6M754.9,1317.7v6.6M751.6,1321.0h6.6M757.2,1317.7v6.6M753.9,1321.0h6.6M759.5,1317.7v6.6M756.2,1321.0h6.6M761.7,1317.7v6.6M758.4,1321.0h6.6M764.0,1317.7v6.6M760.7,1321.0h6.6M766.3,1321.2v6.6M763.0,1324.5h6.6M768.6,1325.2v6.6M765.3,1328.5h6.6M770.9,1325.2v6.6M767.6,1328.5h6.6M773.2,1325.2v6.6M769.9,1328.5h6.6M780.0,1325.2v6.6M776.7,1328.5h6.6M782.3,1325.2v6.6M779.0,1328.5h6.6M784.6,1325.2v6.6M781.3,1328.5h6.6M786.9,1325.2v6.6M783.6,1328.5h6.6M789.2,1325.2v6.6M785.9,1328.5h6.6M794.9,1334.3v6.6M791.6,1337.6h6.6M797.2,1334.3v6.6M793.9,1337.6h6.6M799.5,1334.3v6.6M796.2,1337.6h6.6M802.9,1334.3v6.6M799.6,1337.6h6.6M806.3,1334.3v6.6M803.0,1337.6h6.6M809.8,1334.3v6.6M806.5,1337.6h6.6M811.5,1334.3v6.6M808.2,1337.6h6.6M813.2,1334.3v6.6M809.9,1337.6h6.6M814.9,1334.3v6.6M811.6,1337.6h6.6M816.6,1334.3v6.6M813.3,1337.6h6.6M818.4,1334.3v6.6M815.1,1337.6h6.6M822.4,1337.2v6.6M819.1,1340.5h6.6M824.6,1337.2v6.6M821.3,1340.5h6.6M826.9,1337.2v6.6M823.6,1340.5h6.6M829.2,1337.2v6.6M825.9,1340.5h6.6M831.5,1337.2v6.6M828.2,1340.5h6.6M833.8,1337.2v6.6M830.5,1340.5h6.6M836.1,1337.2v6.6M832.8,1340.5h6.6M838.4,1337.2v6.6M835.1,1340.5h6.6M840.7,1337.2v6.6M837.4,1340.5h6.6M842.9,1337.2v6.6M839.6,1340.5h6.6M845.2,1337.2v6.6M841.9,1340.5h6.6M847.5,1337.2v6.6M844.2,1340.5h6.6M849.8,1337.2v6.6M846.5,1340.5h6.6M855.5,1345.2v6.6M852.2,1348.5h6.6M858.9,1345.2v6.6M855.6,1348.5h6.6M861.2,1345.2v6.6M857.9,1348.5h6.6M863.5,1345.2v6.6M860.2,1348.5h6.6M865.8,1345.2v6.6M862.5,1348.5h6.6M873.8,1345.2v6.6M870.5,1348.5h6.6M877.2,1345.2v6.6M873.9,1348.5h6.6M880.7,1345.2v6.6M877.4,1348.5h6.6M883.0,1350.3v6.6M879.7,1353.6h6.6M887.5,1350.3v6.6M884.2,1353.6h6.6M892.1,1350.3v6.6M888.8,1353.6h6.6M895.5,1350.3v6.6M892.2,1353.6h6.6M899.0,1350.3v6.6M895.7,1353.6h6.6M891.7,1350.3v6.6M888.4,1353.6h6.6M895.3,1350.3v6.6M892.0,1353.6h6.6M901.3,1350.3v6.6M898.0,1353.6h6.6M904.9,1350.3v6.6M901.6,1353.6h6.6M907.3,1350.3v6.6M904.0,1353.6h6.6M909.7,1350.3v6.6M906.4,1353.6h6.6M913.3,1350.3v6.6M910.0,1353.6h6.6M920.5,1350.3v6.6M917.2,1353.6h6.6M936.2,1350.3v6.6M932.9,1353.6h6.6M939.8,1350.3v6.6M936.5,1353.6h6.6M945.0,1361.4v6.6M941.7,1364.7h6.6M962.6,1361.4v6.6M959.3,1364.7h6.6M968.6,1361.4v6.6M965.3,1364.7h6.6M979.4,1361.4v6.6M976.1,1364.7h6.6M993.8,1361.4v6.6M990.5,1364.7h6.6M999.8,1361.4v6.6M996.5,1364.7h6.6M1004.6,1361.4v6.6M1001.3,1364.7h6.6M1008.2,1361.4v6.6M1004.9,1364.7h6.6M1011.8,1361.4v6.6M1008.5,1364.7h6.6M1016.6,1361.4v6.6M1013.3,1364.7h6.6M1025.0,1361.4v6.6M1021.7,1364.7h6.6M1027.4,1361.4v6.6M1024.1,1364.7h6.6M1029.8,1361.4v6.6M1026.5,1364.7h6.6M1035.8,1361.4v6.6M1032.5,1364.7h6.6M1057.0,1361.4v6.6M1053.7,1364.7h6.6" fill="none" stroke="#262626" stroke-width="1.0" stroke-opacity="0.9"/>
<!-- Panel F -->
<text transform="translate(1199.97 1165.50) scale(1.0000 1.02)" font-size="42.72" stroke-width="0.77">F</text>
<text transform="translate(1289.19 1190.00) scale(1.0000 1.02)" font-size="29.86" stroke-width="0.78"><tspan font-style="italic">PASS</tspan><tspan>,  luminal B samples</tspan></text>
<text transform="translate(1328.00 1253.00) scale(1.0000 1.02)" font-size="29.88" stroke-width="0.78">HR=2.59, p=0.032</text>
<line x1="1614" y1="1264.8" x2="1658.5" y2="1264.8" stroke="#000" stroke-width="4"/>
<line x1="1614" y1="1298.8" x2="1658.5" y2="1298.8" stroke="#f01c12" stroke-width="4"/>
<text transform="translate(1667.99 1276.60) scale(1.0000 1.02)" font-size="24.02" stroke-width="0.62">PASS-</text>
<text transform="translate(1668.02 1304.60) scale(1.0000 1.02)" font-size="23.54" stroke-width="0.61">PASS+</text>
<line x1="1301.9" y1="1271.4" x2="1301.9" y2="1584.5" stroke="#000" stroke-width="2.6" stroke-linecap="round"/>
<path d="M1290.7,1281.2H1301.9M1290.7,1340H1301.9M1290.7,1396.8H1301.9M1290.7,1452.8H1301.9M1290.7,1508.3H1301.9M1290.7,1566.6H1301.9" stroke="#000" stroke-width="2.5" stroke-linecap="round" fill="none"/>
<line x1="1301.9" y1="1577.5" x2="1691.5" y2="1577.5" stroke="#000" stroke-width="2.2"/>
<path d="M1302.8,1577.5V1588.0M1416.7,1577.5V1588.0M1529.5,1577.5V1588.0M1640.6,1577.5V1588.0" stroke="#000" stroke-width="2" fill="none"/>
<line x1="1691" y1="1315" x2="1691" y2="1577" stroke="#dcdce4" stroke-width="1"/>
<text transform="translate(1232.89 1292.70) scale(1 1.02)" font-size="29.60" stroke-width="0.77">1.0</text>
<text transform="translate(1233.04 1351.50) scale(1 1.02)" font-size="29.60" stroke-width="0.77">0.8</text>
<text transform="translate(1233.04 1408.30) scale(1 1.02)" font-size="29.60" stroke-width="0.77">0.6</text>
<text transform="translate(1232.74 1464.30) scale(1 1.02)" font-size="29.60" stroke-width="0.77">0.4</text>
<text transform="translate(1233.34 1519.80) scale(1 1.02)" font-size="29.60" stroke-width="0.77">0.2</text>
<text transform="translate(1232.89 1578.10) scale(1 1.02)" font-size="29.60" stroke-width="0.77">0.0</text>
<text transform="translate(1217.00 1548.65) rotate(-90) scale(1.0000 1.02)" font-size="29.78" stroke-width="0.77">Survival Probability</text>
<text transform="translate(1294.51 1619.20) scale(1 1.02)" font-size="29.60" stroke-width="0.77">0</text>
<text transform="translate(1401.00 1619.20) scale(1 1.02)" font-size="29.60" stroke-width="0.77">50</text>
<text transform="translate(1504.57 1619.20) scale(1 1.02)" font-size="29.60" stroke-width="0.77">100</text>
<text transform="translate(1616.27 1619.20) scale(1 1.02)" font-size="29.60" stroke-width="0.77">150</text>
<text transform="translate(1401.59 1659.00) scale(1.0000 1.02)" font-size="29.95" stroke-width="0.78">Time (Months)</text>
<text transform="translate(1328.56 1552.20) scale(1.0000 1.02)" font-size="23.20" stroke-width="0.60" style="font-kerning:none">OS (n=111)</text>
<path d="M1304.7,1281.0 L1351.3,1281.0 L1351.3,1287.6 L1356.2,1287.6 L1356.2,1294.2 L1364.8,1294.2 L1364.8,1301.4 L1402.5,1301.4 L1402.5,1307.9 L1522.8,1307.9 L1522.8,1319.7 L1552.3,1319.7 L1552.3,1333.9 L1681.3,1333.9" fill="none" stroke="#262626" stroke-width="1.3" stroke-opacity="0.8" stroke-linejoin="round"/>
<path d="M1341.3,1277.7v6.6M1338.0,1281.0h6.6M1374.5,1298.1v6.6M1371.2,1301.4h6.6M1386.5,1298.1v6.6M1383.2,1301.4h6.6M1438.5,1304.6v6.6M1435.2,1307.9h6.6M1465.4,1304.6v6.6M1462.1,1307.9h6.6M1476.2,1304.6v6.6M1472.9,1307.9h6.6M1478.5,1304.6v6.6M1475.2,1307.9h6.6M1484.3,1304.6v6.6M1481.0,1307.9h6.6M1489.4,1304.6v6.6M1486.1,1307.9h6.6M1492.3,1304.6v6.6M1489.0,1307.9h6.6M1502.6,1304.6v6.6M1499.3,1307.9h6.6M1514.0,1304.6v6.6M1510.7,1307.9h6.6M1519.6,1304.6v6.6M1516.3,1307.9h6.6M1527.8,1316.4v6.6M1524.5,1319.7h6.6M1538.5,1316.4v6.6M1535.2,1319.7h6.6M1547.3,1316.4v6.6M1544.0,1319.7h6.6M1558.0,1330.6v6.6M1554.7,1333.9h6.6M1560.5,1330.6v6.6M1557.2,1333.9h6.6M1568.1,1330.6v6.6M1564.8,1333.9h6.6M1570.6,1330.6v6.6M1567.3,1333.9h6.6M1573.1,1330.6v6.6M1569.8,1333.9h6.6M1576.2,1330.6v6.6M1572.9,1333.9h6.6M1590.1,1330.6v6.6M1586.8,1333.9h6.6M1601.0,1330.6v6.6M1597.7,1333.9h6.6M1631.6,1330.6v6.6M1628.3,1333.9h6.6M1653.0,1330.6v6.6M1649.7,1333.9h6.6M1654.8,1330.6v6.6M1651.5,1333.9h6.6M1666.4,1330.6v6.6M1663.1,1333.9h6.6M1676.9,1330.6v6.6M1673.6,1333.9h6.6" fill="none" stroke="#262626" stroke-width="1.0" stroke-opacity="0.9"/>
<path d="M1304.7,1281.0 L1323.6,1281.0 L1323.6,1285.4 L1337.3,1285.4 L1337.3,1289.0 L1345.3,1289.0 L1345.3,1293.0 L1349.9,1293.0 L1349.9,1295.3 L1353.3,1295.3 L1353.3,1302.2 L1394.3,1302.2 L1394.3,1307.3 L1411.1,1307.3 L1411.1,1311.3 L1419.1,1311.3 L1419.1,1315.3 L1426.5,1315.3 L1426.5,1319.9 L1435.1,1319.9 L1435.1,1324.5 L1439.1,1324.5 L1439.1,1329.0 L1443.7,1329.0 L1443.7,1333.6 L1447.1,1333.6 L1447.1,1338.2 L1452.2,1338.2 L1452.2,1342.8 L1456.2,1342.8 L1456.2,1347.3 L1459.7,1347.3 L1459.7,1352.5 L1471.7,1352.5 L1471.7,1357.1 L1475.7,1357.1 L1475.7,1358.8 L1481.4,1358.8 L1481.4,1362.8 L1491.7,1362.8 L1491.7,1368.5 L1492.6,1363.1 L1492.6,1369.4 L1506.4,1369.4 L1506.4,1375.7 L1610.2,1375.7 L1610.2,1403.4 L1615.2,1403.4 L1615.2,1430.8 L1667.4,1430.8" fill="none" stroke="#ee2b2b" stroke-width="1.25" stroke-opacity="0.8" stroke-linejoin="round"/>
<path d="M1352.7,1292.0v6.6M1349.4,1295.3h6.6M1389.3,1298.9v6.6M1386.0,1302.2h6.6M1435.7,1321.2v6.6M1432.4,1324.5h6.6M1440.2,1325.7v6.6M1436.9,1329.0h6.6M1442.5,1325.7v6.6M1439.2,1329.0h6.6M1453.4,1339.5v6.6M1450.1,1342.8h6.6M1455.7,1339.5v6.6M1452.4,1342.8h6.6M1460.8,1349.2v6.6M1457.5,1352.5h6.6M1463.1,1349.2v6.6M1459.8,1352.5h6.6M1465.4,1349.2v6.6M1462.1,1352.5h6.6M1467.7,1349.2v6.6M1464.4,1352.5h6.6M1470.0,1349.2v6.6M1466.7,1352.5h6.6M1474.0,1353.8v6.6M1470.7,1357.1h6.6M1482.5,1359.5v6.6M1479.2,1362.8h6.6M1484.8,1359.5v6.6M1481.5,1362.8h6.6M1487.1,1359.5v6.6M1483.8,1362.8h6.6M1482.5,1359.5v6.6M1479.2,1362.8h6.6M1485.0,1359.5v6.6M1481.7,1362.8h6.6M1487.5,1359.5v6.6M1484.2,1362.8h6.6M1495.7,1366.1v6.6M1492.4,1369.4h6.6M1498.2,1366.1v6.6M1494.9,1369.4h6.6M1522.5,1372.4v6.6M1519.2,1375.7h6.6M1530.3,1372.4v6.6M1527.0,1375.7h6.6M1532.8,1372.4v6.6M1529.5,1375.7h6.6M1538.5,1372.4v6.6M1535.2,1375.7h6.6M1544.4,1372.4v6.6M1541.1,1375.7h6.6M1551.9,1372.4v6.6M1548.6,1375.7h6.6M1557.7,1372.4v6.6M1554.4,1375.7h6.6M1563.3,1372.4v6.6M1560.0,1375.7h6.6M1571.2,1372.4v6.6M1567.9,1375.7h6.6M1585.0,1372.4v6.6M1581.7,1375.7h6.6M1598.5,1372.4v6.6M1595.2,1375.7h6.6M1601.0,1372.4v6.6M1597.7,1375.7h6.6M1603.9,1372.4v6.6M1600.6,1375.7h6.6M1606.4,1372.4v6.6M1603.1,1375.7h6.6M1608.6,1372.4v6.6M1605.3,1375.7h6.6M1631.6,1427.5v6.6M1628.3,1430.8h6.6M1639.1,1427.5v6.6M1635.8,1430.8h6.6M1658.0,1427.5v6.6M1654.7,1430.8h6.6M1663.0,1427.5v6.6M1659.7,1430.8h6.6" fill="none" stroke="#ee2b2b" stroke-width="1.0" stroke-opacity="1"/>
</svg>
</body></html>
